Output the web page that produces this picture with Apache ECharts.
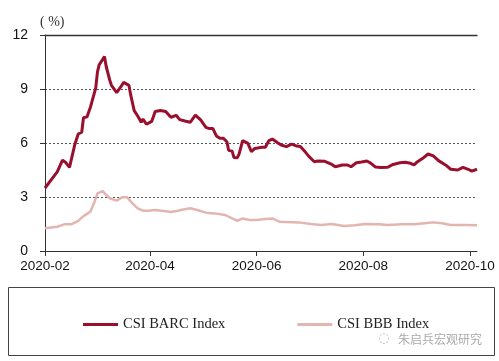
<!DOCTYPE html>
<html><head><meta charset="utf-8">
<script src="https://cdn.jsdelivr.net/npm/echarts@6/dist/echarts.min.js"></script>
<style>html,body{margin:0;padding:0;background:#fff}#c{width:499px;height:361px}</style>
</head><body><div id="c"></div>
<script>
var barcDates = ['2020-02-01','2020-02-08','2020-02-11','2020-02-13','2020-02-15','2020-02-18','2020-02-20','2020-02-22','2020-02-23','2020-02-25','2020-02-27','2020-02-28',
'2020-03-01','2020-03-02','2020-03-03','2020-03-06','2020-03-07','2020-03-09','2020-03-10','2020-03-13','2020-03-15','2020-03-17','2020-03-20','2020-03-21','2020-03-23','2020-03-25','2020-03-27','2020-03-28','2020-03-30',
'2020-04-02','2020-04-04','2020-04-07','2020-04-10','2020-04-13','2020-04-16','2020-04-18','2020-04-21','2020-04-24','2020-04-27','2020-04-30',
'2020-05-03','2020-05-05','2020-05-07','2020-05-09','2020-05-11','2020-05-13','2020-05-15','2020-05-16','2020-05-18','2020-05-19','2020-05-21','2020-05-22','2020-05-24','2020-05-27','2020-05-29','2020-05-31',
'2020-06-04','2020-06-06','2020-06-08','2020-06-10','2020-06-13','2020-06-15','2020-06-18','2020-06-21','2020-06-24','2020-06-26','2020-06-29',
'2020-07-01','2020-07-04','2020-07-06','2020-07-10','2020-07-14','2020-07-16','2020-07-20','2020-07-23','2020-07-25','2020-07-28','2020-07-31',
'2020-08-03','2020-08-05','2020-08-08','2020-08-11','2020-08-15','2020-08-18','2020-08-22','2020-08-25','2020-08-28','2020-08-30',
'2020-09-01','2020-09-04','2020-09-07','2020-09-10','2020-09-13','2020-09-17','2020-09-20','2020-09-24','2020-09-25','2020-09-27','2020-09-30',
'2020-10-02','2020-10-05'];
var barcValues = [3.5,4.4,5.05,4.9,4.65,5.9,6.5,6.6,7.4,7.45,8.0,8.35,
9.05,9.95,10.35,10.8,10.25,9.5,9.2,8.8,9.07,9.37,9.2,8.67,7.8,7.5,7.15,7.33,7.04,
7.2,7.75,7.8,7.75,7.43,7.54,7.3,7.22,7.15,7.55,7.28,
6.87,6.8,6.8,6.39,6.26,6.26,6.07,5.6,5.55,5.2,5.18,5.4,6.13,5.98,5.52,5.7,
5.76,5.76,6.13,6.22,6.02,5.89,5.8,5.94,5.83,5.8,5.48,
5.24,4.96,5.0,4.98,4.81,4.68,4.78,4.78,4.68,4.9,4.94,
5.0,4.9,4.66,4.64,4.65,4.81,4.9,4.93,4.87,4.78,
4.96,5.15,5.39,5.28,5.02,4.78,4.54,4.5,4.4,4.65,4.54,
4.44,4.54];
var bbbDates = ['2020-02-01','2020-02-08','2020-02-12','2020-02-16','2020-02-20','2020-02-23','2020-02-27','2020-02-29',
'2020-03-02','2020-03-05','2020-03-07','2020-03-09','2020-03-13','2020-03-16','2020-03-19','2020-03-22','2020-03-25','2020-03-28','2020-03-31',
'2020-04-04','2020-04-09','2020-04-13','2020-04-17','2020-04-20','2020-04-24','2020-04-28',
'2020-05-03','2020-05-08','2020-05-14','2020-05-18','2020-05-21','2020-05-24','2020-05-28',
'2020-06-01','2020-06-06','2020-06-10','2020-06-14','2020-06-25',
'2020-07-02','2020-07-08','2020-07-14','2020-07-21','2020-07-27',
'2020-08-02','2020-08-10','2020-08-15','2020-08-23','2020-08-30',
'2020-09-05','2020-09-10','2020-09-15','2020-09-20','2020-09-28','2020-10-05'];
var bbbValues = [1.26,1.35,1.48,1.48,1.67,1.94,2.19,2.65,
3.2,3.33,3.11,2.93,2.8,2.98,2.98,2.65,2.37,2.24,2.24,
2.28,2.22,2.17,2.24,2.31,2.37,2.28,
2.13,2.09,2.0,1.81,1.68,1.81,1.72,
1.72,1.78,1.81,1.63,1.59,
1.5,1.44,1.5,1.39,1.43,
1.5,1.48,1.44,1.48,1.48,
1.54,1.59,1.54,1.44,1.44,1.43];
var xTickDates = ['2020-02-01','2020-04-01','2020-06-01','2020-08-01','2020-10-01'];
var xTickLabels = ['2020-02','2020-04','2020-06','2020-08','2020-10'];
var yTicks = [0,3,6,9,12];
var seriesNames = ['CSI BARC Index','CSI BBB Index'];

var startDate = '2020-02-01', endDate = '2020-10-05';
function ts(s){var p=s.split('-');return Date.UTC(+p[0],+p[1]-1,+p[2]);}
function day(s){return Math.round((ts(s)-ts(startDate))/86400000);}
function pairs(d,v){return d.map(function(x,i){return [day(x),v[i]];});}
var tickDays = xTickDates.map(day);
var xMin = 0, xMax = day(endDate);

var chart = echarts.init(document.getElementById('c'), null, {renderer:'canvas'});
chart.setOption({
  backgroundColor:'#fff',
  animation:false,
  grid:{left:45,right:22,top:35,bottom:110},
  xAxis:[{
    type:'value', min:xMin, max:xMax,
    axisLine:{show:true,lineStyle:{color:'#333',width:1}},
    axisTick:{show:true,length:5,lineStyle:{color:'#333'},customValues:tickDays},
    axisLabel:{customValues:tickDays,color:'#111',fontSize:13.5,fontFamily:'Liberation Sans, Arial',margin:8,
      showMinLabel:true,showMaxLabel:true,
      formatter:function(v){var i=tickDays.indexOf(v);return i>=0?xTickLabels[i]:'';}},
    splitLine:{show:false}
  },{
    type:'value', min:xMin, max:xMax, position:'top',
    axisLine:{show:true,lineStyle:{color:'#333',width:1.3}},
    axisTick:{show:false}, axisLabel:{show:false}, splitLine:{show:false}
  }],
  yAxis:{
    type:'value', min:yTicks[0], max:yTicks[yTicks.length-1], interval:3,
    axisLine:{show:true,lineStyle:{color:'#333'}},
    axisTick:{show:true,length:5,lineStyle:{color:'#333'}},
    axisLabel:{color:'#111',fontSize:14,fontFamily:'Liberation Sans, Arial',margin:17},
    splitLine:{show:true,lineStyle:{color:'#555',type:[2,2],width:1}}
  },
  legend:{
    left:78, top:312, itemWidth:35, itemHeight:3, itemGap:72,
    icon:'rect',
    data:[{name:seriesNames[0],icon:'rect',itemStyle:{color:'#990F2D'}},{name:seriesNames[1],icon:'rect',itemStyle:{color:'#E3B5B1'}}],
    textStyle:{fontFamily:'Liberation Serif, Times New Roman',fontSize:14.5,color:'#222'}
  },
  graphic:[
    {type:'text',left:40,top:15,style:{text:'( %)',font:'14px "Liberation Serif"',fill:'#333'}},
    {type:'rect',shape:{x:8.5,y:287.5,width:486,height:68},style:{fill:'none',stroke:'#444',lineWidth:1}},
    {type:'text',left:398,top:333,style:{text:'朱启兵宏观研究',font:'12px "Noto Sans CJK SC"',fill:'#aaa'}},
    {type:'text',left:378,top:332,style:{text:'◌',font:'13px "DejaVu Sans"',fill:'#bbb'}}
  ],
  series:[
    {name:seriesNames[0],type:'line',data:pairs(barcDates,barcValues),showSymbol:false,symbol:'none',
     lineStyle:{color:'#990F2D',width:3},itemStyle:{color:'#990F2D'},z:3},
    {name:seriesNames[1],type:'line',data:pairs(bbbDates,bbbValues),showSymbol:false,symbol:'none',
     lineStyle:{color:'#E3B5B1',width:2.5},itemStyle:{color:'#E3B5B1'},z:2}
  ]
});
</script></body></html>
